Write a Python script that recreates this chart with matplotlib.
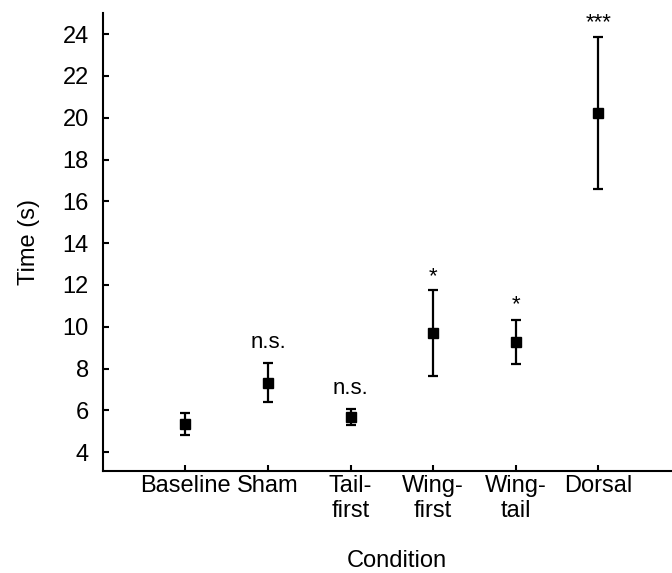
import matplotlib
matplotlib.use("Agg")
import matplotlib.pyplot as plt

plt.rcParams['font.family'] = ['Liberation Sans', 'DejaVu Sans']

categories = ["Baseline", "Sham", "Tail-\nfirst", "Wing-\nfirst", "Wing-\ntail", "Dorsal"]
means = [5.33, 7.3, 5.67, 9.72, 9.26, 20.22]
err_low = [4.80, 6.42, 5.28, 7.65, 8.21, 16.60]
err_high = [5.87, 8.25, 6.06, 11.78, 10.32, 23.85]
sig_labels = ["", "n.s.", "n.s.", "*", "*", "***"]
sig_heights = [0, 9.0, 6.77, 12.15, 10.77, 24.3]
yticks = [4, 6, 8, 10, 12, 14, 16, 18, 20, 22, 24]

FS = 17

fig = plt.figure(figsize=(6.72, 5.73), dpi=100)
ax = fig.add_axes([0.153, 0.178, 0.8601, 0.799])

x = list(range(len(categories)))
lower = [m - lo for m, lo in zip(means, err_low)]
upper = [hi - m for m, hi in zip(means, err_high)]
ax.errorbar(x, means, yerr=[lower, upper], fmt='s', color='black',
            markersize=7, elinewidth=1.6, capsize=3.4, capthick=1.6)

for xi, lab, h in zip(x, sig_labels, sig_heights):
    if lab:
        ax.text(xi, h, lab, ha='center', va='baseline', fontsize=16)

ax.set_xlim(-1, 6)
ax.set_ylim(3.1, 25.0)
ax.set_xticks(x)
ax.set_xticklabels(categories, fontsize=FS, linespacing=1.17, va='top')
ax.set_yticks(yticks)
ax.set_yticklabels([str(t) for t in yticks], fontsize=FS)
ax.tick_params(axis='both', direction='in', length=4.5, width=1.5)
ax.tick_params(axis='y', pad=10)
ax.tick_params(axis='x', pad=3)

for side in ['top', 'right']:
    ax.spines[side].set_visible(False)
for side in ['left', 'bottom']:
    ax.spines[side].set_linewidth(1.5)

ax.set_ylabel("Time (s)", fontsize=FS, labelpad=16)
ax.set_xlabel("Condition", fontsize=FS, labelpad=20)
ax.xaxis.label.set_x(0.508)

fig.savefig("out.png", dpi=100)
